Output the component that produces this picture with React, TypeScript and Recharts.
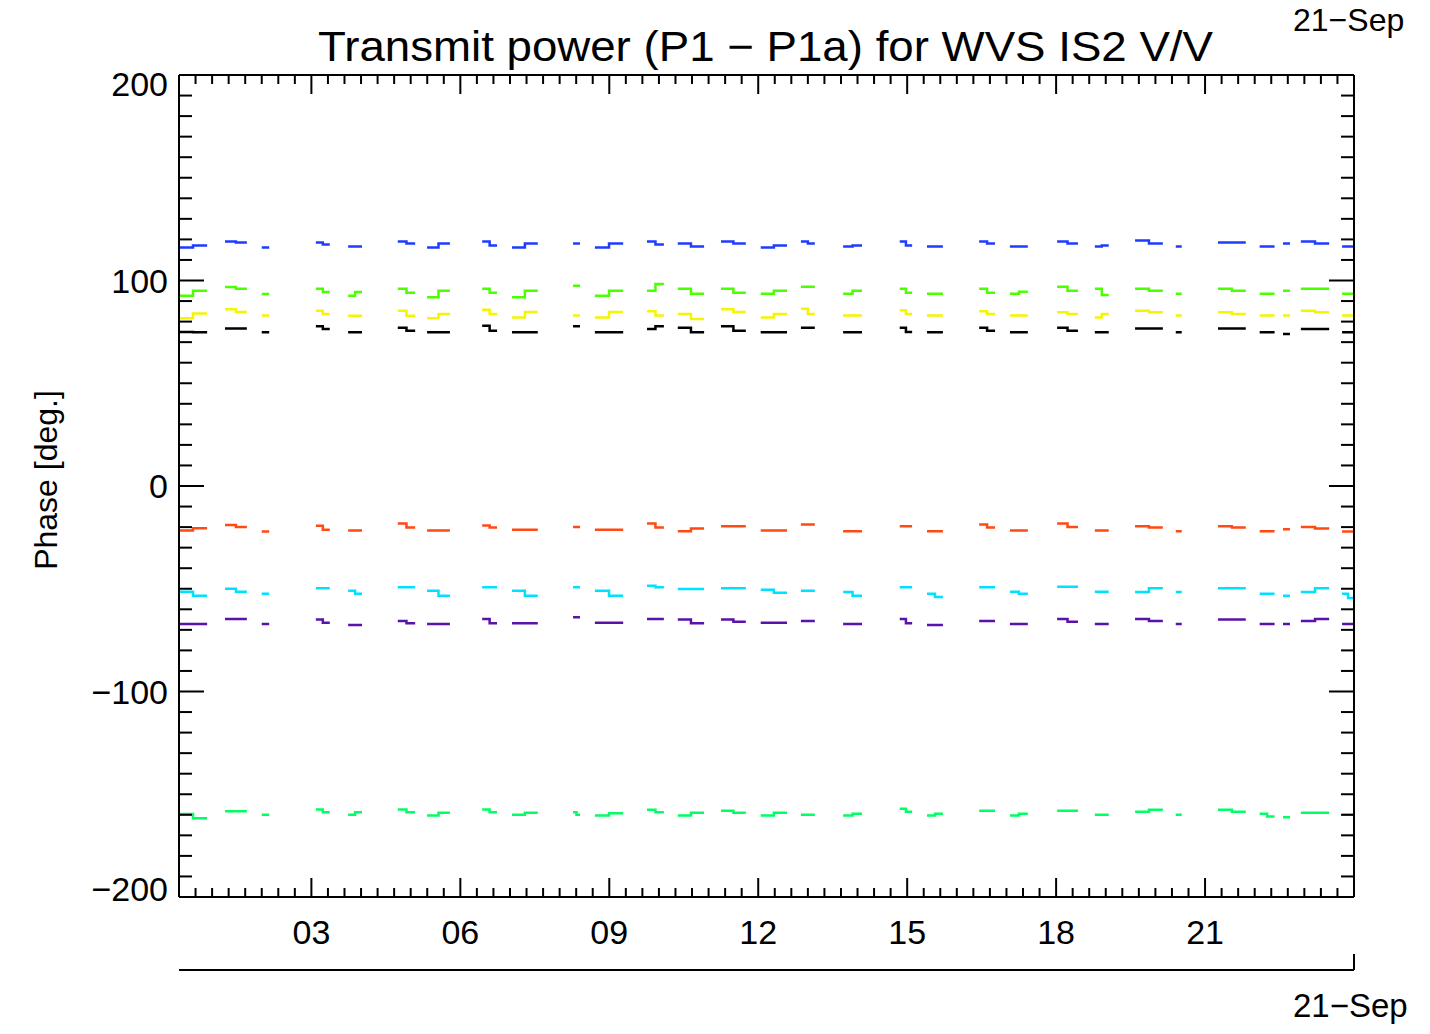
import React from "react";
import { LineChart, Line, XAxis, YAxis } from "recharts";

// plot frame (px)
const W = 1430;
const H = 1034;
const PL = 179;
const PR = 1354;
const PT = 75;
const PB = 897;
const DATE_AXIS_Y = 970;

const FONT = "'Liberation Sans', Arial, sans-serif";

// hours of day where each acquisition segment starts / ends
const segStart = [0.33, 1.26, 2.0, 3.09, 3.74, 4.74, 5.33, 6.44, 7.04, 8.27, 8.71, 9.76, 10.38, 11.25, 12.05, 12.86, 13.71, 14.85, 15.4, 16.45, 17.07, 18.02, 18.78, 19.59, 20.41, 21.26, 22.1, 22.57, 22.93, 23.76];
const segEnd = [0.9, 1.7, 2.15, 3.37, 4.02, 5.09, 5.79, 6.74, 7.56, 8.41, 9.28, 10.1, 10.91, 11.75, 12.58, 13.14, 14.09, 15.1, 15.72, 16.77, 17.43, 18.44, 19.06, 20.15, 20.53, 21.82, 22.4, 22.71, 23.5, 24.0];

// phase per segment: [first half, second half]
const blue = [[116, 117], [119, 118.5], [116, 116], [118.5, 117.5], [116.5, 116.5], [119, 118], [116, 118], [119, 117], [116, 118], [118, 118], [116, 118], [119, 117.5], [118, 116.5], [119, 118], [116, 117], [119, 118], [116.5, 117], [119, 117], [116.5, 116.5], [119, 118], [116.5, 116.5], [119, 118], [116.5, 117], [119.5, 118], [116.5, 116.5], [118.5, 118.5], [116.5, 116.5], [118, 118], [119, 118], [116.5, 116.5]];
const green = [[92.6, 95], [96.8, 96], [93.4, 93.4], [96, 94.4], [92.6, 94.4], [96, 94], [91.8, 95], [96, 94], [91.8, 95], [97.5, 97.5], [92.6, 95], [95, 98.3], [96, 93.5], [96, 94], [93.5, 95], [97, 97], [93.5, 95], [96, 94], [93.5, 93.5], [96, 94], [93.5, 94.5], [97, 95], [96, 93], [96, 95], [93.5, 93.5], [96, 95], [93.5, 93.5], [95, 95], [96, 96], [93.5, 93.5]];
const yellow = [[81.6, 84], [86, 84.7], [83, 83], [85.3, 83.7], [82.9, 82.9], [85.3, 82.9], [81.6, 83.7], [85.8, 83.7], [82, 84.7], [83, 83], [82, 84.7], [85, 83], [83.7, 81.3], [86, 84.7], [82, 83.7], [86.3, 83.7], [83, 83], [85.5, 83.7], [83, 83], [85, 83.7], [83, 83], [84.5, 83.7], [82, 83.7], [85.3, 84.5], [83, 83], [84.5, 83.7], [83, 83], [83, 83], [85.3, 84.5], [83, 83]];
const black = [[75, 74.8], [76.7, 76.7], [74.8, 74.8], [77.7, 76.4], [74.8, 74.8], [77, 75.5], [74.8, 74.8], [78, 75.5], [74.8, 74.8], [77.7, 77.7], [74.8, 74.8], [76.4, 77.7], [77, 74.8], [77.7, 75.5], [74.8, 74.8], [77, 77], [74.8, 74.8], [77, 75], [74.8, 74.8], [77, 75.5], [74.8, 74.8], [77, 75.5], [74.8, 74.8], [76.7, 76.7], [74.8, 74.8], [76.7, 76.7], [74.8, 74.8], [74, 74], [76.4, 76.4], [74.8, 74.8]];
const red = [[-21.7, -20.5], [-19, -20], [-22.2, -22.2], [-19.4, -21.3], [-21.7, -21.7], [-18.2, -20.2], [-21.7, -21.7], [-19.2, -20.2], [-21.3, -21.3], [-20, -20], [-21.3, -21.3], [-18.2, -20.2], [-22, -20.7], [-19.6, -19.6], [-21.7, -21.7], [-18.7, -18.7], [-22, -22], [-19.6, -19.6], [-22, -22], [-18.7, -20.2], [-21.7, -21.7], [-18.2, -20], [-21.7, -21.7], [-19.6, -20.2], [-22, -22], [-19.6, -20.2], [-22, -22], [-21, -21], [-20, -20.7], [-22.2, -22.2]];
const cyan = [[-51.4, -53.4], [-50, -51.5], [-52.4, -52.4], [-49.7, -49.7], [-51, -52.4], [-49.3, -49.3], [-51, -53.4], [-49.3, -49.3], [-51, -53.4], [-49.3, -49.3], [-51, -53.4], [-48.5, -49.3], [-50.1, -50.1], [-49.7, -49.7], [-50.5, -52], [-51, -51], [-51.6, -53.4], [-49.3, -49.3], [-52.4, -54], [-49.3, -49.3], [-51.4, -52.4], [-49, -49], [-51.4, -51.4], [-51.6, -49.7], [-51.6, -51.6], [-49.7, -49.7], [-52.4, -52.4], [-53.4, -53.4], [-51.6, -49.7], [-52.4, -54.5]];
const purple = [[-67.2, -67.2], [-64.7, -64.7], [-67.2, -67.2], [-65, -66.5], [-67.7, -67.7], [-65.7, -66.8], [-67.2, -67.2], [-64.7, -66.8], [-66.8, -66.8], [-63.9, -63.9], [-66.5, -66.5], [-64.7, -64.7], [-65, -66.8], [-65, -66], [-66.5, -66.5], [-65.7, -65.7], [-67.2, -67.2], [-64.7, -66.8], [-67.7, -67.7], [-65.7, -65.7], [-67.2, -67.2], [-64.7, -66], [-67.2, -67.2], [-64.7, -65.7], [-67.2, -67.2], [-65, -65], [-67.2, -67.2], [-67.2, -67.2], [-65.7, -64.7], [-67.2, -67.2]];
const spring = [[-159.6, -161.7], [-158.3, -158.3], [-160, -160], [-157.4, -158.8], [-160, -158.8], [-157.4, -158.8], [-160.3, -159], [-157.4, -158.8], [-160, -159], [-158.8, -160], [-160.4, -159.2], [-157.5, -158.8], [-160.4, -159], [-158, -159], [-160.4, -159], [-160, -160], [-160.4, -159.5], [-157, -158.5], [-160.4, -159.5], [-158, -158], [-160.4, -159.5], [-158, -158], [-160, -160], [-158.5, -157.5], [-160, -160], [-157.5, -158.5], [-159.5, -160.8], [-161.2, -161.2], [-159, -159], [-160, -160]];

const series = [
  { key: "blue", color: "#1e3cff", values: blue },
  { key: "green", color: "#4cff00", values: green },
  { key: "yellow", color: "#f5f500", values: yellow },
  { key: "black", color: "#000000", values: black },
  { key: "red", color: "#ff4a14", values: red },
  { key: "cyan", color: "#00e0ff", values: cyan },
  { key: "purple", color: "#5a12a8", values: purple },
  { key: "spring", color: "#00ff64", values: spring },
];

const xMajorLabels = ["03", "06", "09", "12", "15", "18", "21"];
const dateLabel = "21\u2212Sep";
const title = "Transmit power (P1 \u2212 P1a) for WVS IS2 V/V";
const yTitle = "Phase [deg.]";

// table: each segment -> start, level change, end, then a null row to break the line
const rows: any[] = [];
segStart.forEach((t0, i) => {
  const t1 = segEnd[i];
  const tm = (t0 + t1) / 2;
  const a: any = { t: t0 };
  const b: any = { t: tm };
  const c: any = { t: t1 };
  series.forEach((s) => {
    a[s.key] = s.values[i][0];
    b[s.key] = s.values[i][1];
    c[s.key] = s.values[i][1];
  });
  rows.push(a, b, c);
  if (i < segStart.length - 1) {
    const gap: any = { t: (t1 + segStart[i + 1]) / 2 };
    series.forEach((s) => (gap[s.key] = null));
    rows.push(gap);
  }
});

// 20 minute minor ticks, 3 hour majors; 10 deg minor, 100 deg major
const xTicks: number[] = [];
for (let k = 2; k <= 71; k++) xTicks.push(k / 3);
const yTicks: number[] = [];
for (let v = -200; v <= 200; v += 10) yTicks.push(v);

const isXMajor = (v: number) => Math.abs(v - Math.round(v)) < 1e-6 && Math.round(v) % 3 === 0;
const minus = (v: number) => (v < 0 ? "\u2212" + Math.abs(v) : String(v));

const LeftTick = (props: any) => {
  const { y, payload } = props;
  const v = payload.value;
  const major = v % 100 === 0;
  const shift = v === 200 ? 9 : v === -200 ? -8 : 0;
  return (
    <g>
      <line x1={PL} x2={PL + (major ? 25 : 13)} y1={y} y2={y} stroke="#000" strokeWidth={2} />
      {major && (
        <text x={PL - 11} y={y + shift + 12} textAnchor="end" fontSize={34} fontFamily={FONT} fill="#000">
          {minus(v)}
        </text>
      )}
    </g>
  );
};

const RightTick = (props: any) => {
  const { y, payload } = props;
  const major = payload.value % 100 === 0;
  return <line x1={PR} x2={PR - (major ? 25 : 13)} y1={y} y2={y} stroke="#000" strokeWidth={2} />;
};

const BottomTick = (props: any) => {
  const { x, payload } = props;
  const v = payload.value;
  const major = isXMajor(v);
  return (
    <g>
      <line x1={x} x2={x} y1={PB} y2={PB - (major ? 19 : 9)} stroke="#000" strokeWidth={2} />
      {major && (
        <text x={x} y={PB + 47} textAnchor="middle" fontSize={34} fontFamily={FONT} fill="#000">
          {xMajorLabels[Math.round(v) / 3 - 1]}
        </text>
      )}
    </g>
  );
};

const TopTick = (props: any) => {
  const { x, payload } = props;
  const major = isXMajor(payload.value);
  return <line x1={x} x2={x} y1={PT} y2={PT + (major ? 19 : 9)} stroke="#000" strokeWidth={2} />;
};

const DateTick = (props: any) => {
  const { x } = props;
  return (
    <g>
      <line x1={x} x2={x} y1={DATE_AXIS_Y} y2={DATE_AXIS_Y - 16} stroke="#000" strokeWidth={2} />
      <text x={1293} y={1017} fontSize={33} fontFamily={FONT} fill="#000">
        {dateLabel}
      </text>
    </g>
  );
};

export default function App() {
  const axisLine = { stroke: "#000", strokeWidth: 2 };
  // axes of size 0 are not drawn, so each side axis gets 1px and the margin gives it back
  return (
    <div style={{ position: "absolute", left: 0, top: 0, width: W, height: H, background: "#fff" }}>
      <LineChart
        width={W}
        height={H}
        data={rows}
        margin={{ top: PT - 1, left: PL - 1, right: W - PR - 1, bottom: H - DATE_AXIS_Y - 1 }}
      >
        <XAxis
          xAxisId="bottom"
          dataKey="t"
          type="number"
          domain={[1 / 3, 24]}
          allowDataOverflow
          ticks={xTicks}
          interval={0}
          height={DATE_AXIS_Y - PB}
          axisLine={axisLine}
          tickLine={false}
          tickSize={0}
          tick={BottomTick}
        />
        <XAxis
          xAxisId="date"
          dataKey="t"
          type="number"
          domain={[1 / 3, 24]}
          allowDataOverflow
          ticks={[24]}
          interval={0}
          height={1}
          axisLine={axisLine}
          tickLine={false}
          tickSize={0}
          tick={DateTick}
        />
        <XAxis
          xAxisId="top"
          orientation="top"
          dataKey="t"
          type="number"
          domain={[1 / 3, 24]}
          allowDataOverflow
          ticks={xTicks}
          interval={0}
          height={1}
          axisLine={axisLine}
          tickLine={false}
          tickSize={0}
          tick={TopTick}
        />
        <YAxis
          yAxisId="left"
          type="number"
          domain={[-200, 200]}
          allowDataOverflow
          ticks={yTicks}
          interval={0}
          width={1}
          axisLine={axisLine}
          tickLine={false}
          tickSize={0}
          tick={LeftTick}
        />
        <YAxis
          yAxisId="right"
          orientation="right"
          type="number"
          domain={[-200, 200]}
          allowDataOverflow
          ticks={yTicks}
          interval={0}
          width={1}
          axisLine={axisLine}
          tickLine={false}
          tickSize={0}
          tick={RightTick}
        />
        {series.map((s) => (
          <Line
            key={s.key}
            xAxisId="bottom"
            yAxisId="left"
            type="stepAfter"
            dataKey={s.key}
            stroke={s.color}
            strokeWidth={2.5}
            dot={false}
            activeDot={false}
            connectNulls={false}
            isAnimationActive={false}
          />
        ))}
        <text x={318} y={61} fontSize={42} fontFamily={FONT} fill="#000" textLength={895} lengthAdjust="spacingAndGlyphs">
          {title}
        </text>
        <text x={1293} y={31} fontSize={32} fontFamily={FONT} fill="#000">
          {dateLabel}
        </text>
        <text
          x={57}
          y={480}
          transform="rotate(-90 57 480)"
          textAnchor="middle"
          fontSize={32}
          fontFamily={FONT}
          fill="#000"
        >
          {yTitle}
        </text>
      </LineChart>
    </div>
  );
}
